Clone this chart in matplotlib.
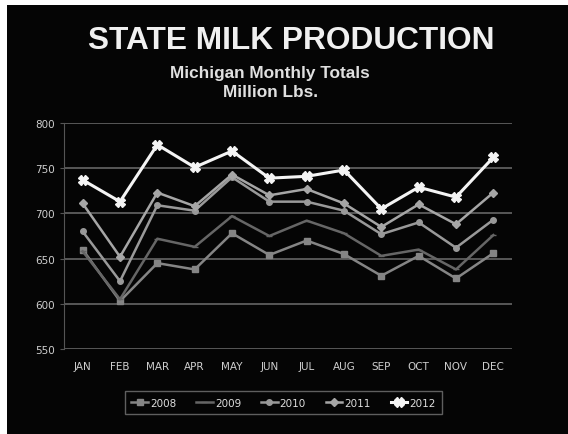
import numpy as np
import matplotlib.pyplot as plt
from matplotlib.patches import Rectangle

months = ["JAN", "FEB", "MAR", "APR", "MAY", "JUN", "JUL", "AUG", "SEP", "OCT", "NOV", "DEC"]

# Michigan monthly milk totals, million lbs
y2008 = [660, 603, 645, 638, 678, 654, 670, 655, 631, 653, 628, 656]
y2009 = [658, 605, 672, 663, 697, 675, 692, 678, 653, 660, 638, 676]
y2010 = [680, 625, 709, 703, 740, 713, 713, 703, 677, 690, 662, 693]
y2011 = [711, 652, 723, 708, 743, 720, 727, 711, 685, 710, 688, 723]
y2012 = [737, 713, 776, 751, 769, 739, 741, 748, 705, 729, 718, 762]

series = [
    ("2008", y2008, "#858585", "s", 4),
    ("2009", y2009, "#666666", "_", 5),
    ("2010", y2010, "#999999", "o", 4),
    ("2011", y2011, "#a6a6a6", "D", 4),
    ("2012", y2012, "#f4f4f4", "X", 7),
]

fig = plt.figure(figsize=(5.68, 4.35), dpi=100, facecolor="#050505")
# thin white margin on top and left
fig.patches.append(Rectangle((0, 1 - 6 / 435), 1, 1, transform=fig.transFigure,
                             facecolor="white", edgecolor="none", zorder=-10))
fig.patches.append(Rectangle((0, 0), 7 / 568, 1, transform=fig.transFigure,
                             facecolor="white", edgecolor="none", zorder=-10))

fig.text(0.512, 0.905, "STATE MILK PRODUCTION", ha="center", va="center",
         fontsize=22.8, fontweight="bold", color="#f0f0f0", family="Liberation Sans")
fig.text(0.476, 0.830, "Michigan Monthly Totals", ha="center", va="center",
         fontsize=12.4, fontweight="bold", color="#e0e0e0", family="Liberation Sans")
fig.text(0.476, 0.787, "Million Lbs.", ha="center", va="center",
         fontsize=12.4, fontweight="bold", color="#e0e0e0", family="Liberation Sans")

ax = fig.add_axes([64 / 568, 1 - 350 / 435, (512 - 64) / 568, (350 - 124) / 435])
ax.set_facecolor("none")
x = np.arange(len(months))
for name, vals, col, mk, ms in series:
    lw = 2.2 if name == "2012" else 1.8
    ax.plot(x, vals, color=col, lw=lw, marker=mk, ms=ms, mec=col, mfc=col, label=name, zorder=3)

ax.set_xlim(-0.5, 11.5)
ax.set_ylim(550, 800)
ax.set_yticks(np.arange(550, 801, 50))
ax.set_xticks(x)
ax.set_xticklabels(months)
ax.grid(axis="y", color="#5e5e5e", lw=1.3)
ax.set_axisbelow(True)
for s in ["top", "right", "bottom"]:
    ax.spines[s].set_visible(False)
ax.spines["left"].set_color("#555555")
ax.tick_params(axis="y", colors="#cfcfcf", labelsize=7.5, length=3, color="#555555")
ax.tick_params(axis="x", colors="#cfcfcf", labelsize=7.5, length=0, pad=9)

leg = ax.legend(loc="upper center", bbox_to_anchor=(0.49, -0.165), ncol=5, frameon=True,
                fontsize=7.5, handlelength=1.6, handletextpad=0.2, columnspacing=1.9,
                borderpad=0.6)
leg.get_frame().set_facecolor("none")
leg.get_frame().set_edgecolor("#777777")
leg.get_frame().set_boxstyle("square", pad=0)
for t in leg.get_texts():
    t.set_color("#dddddd")

fig.savefig("out.png", dpi=100, facecolor=fig.get_facecolor())
